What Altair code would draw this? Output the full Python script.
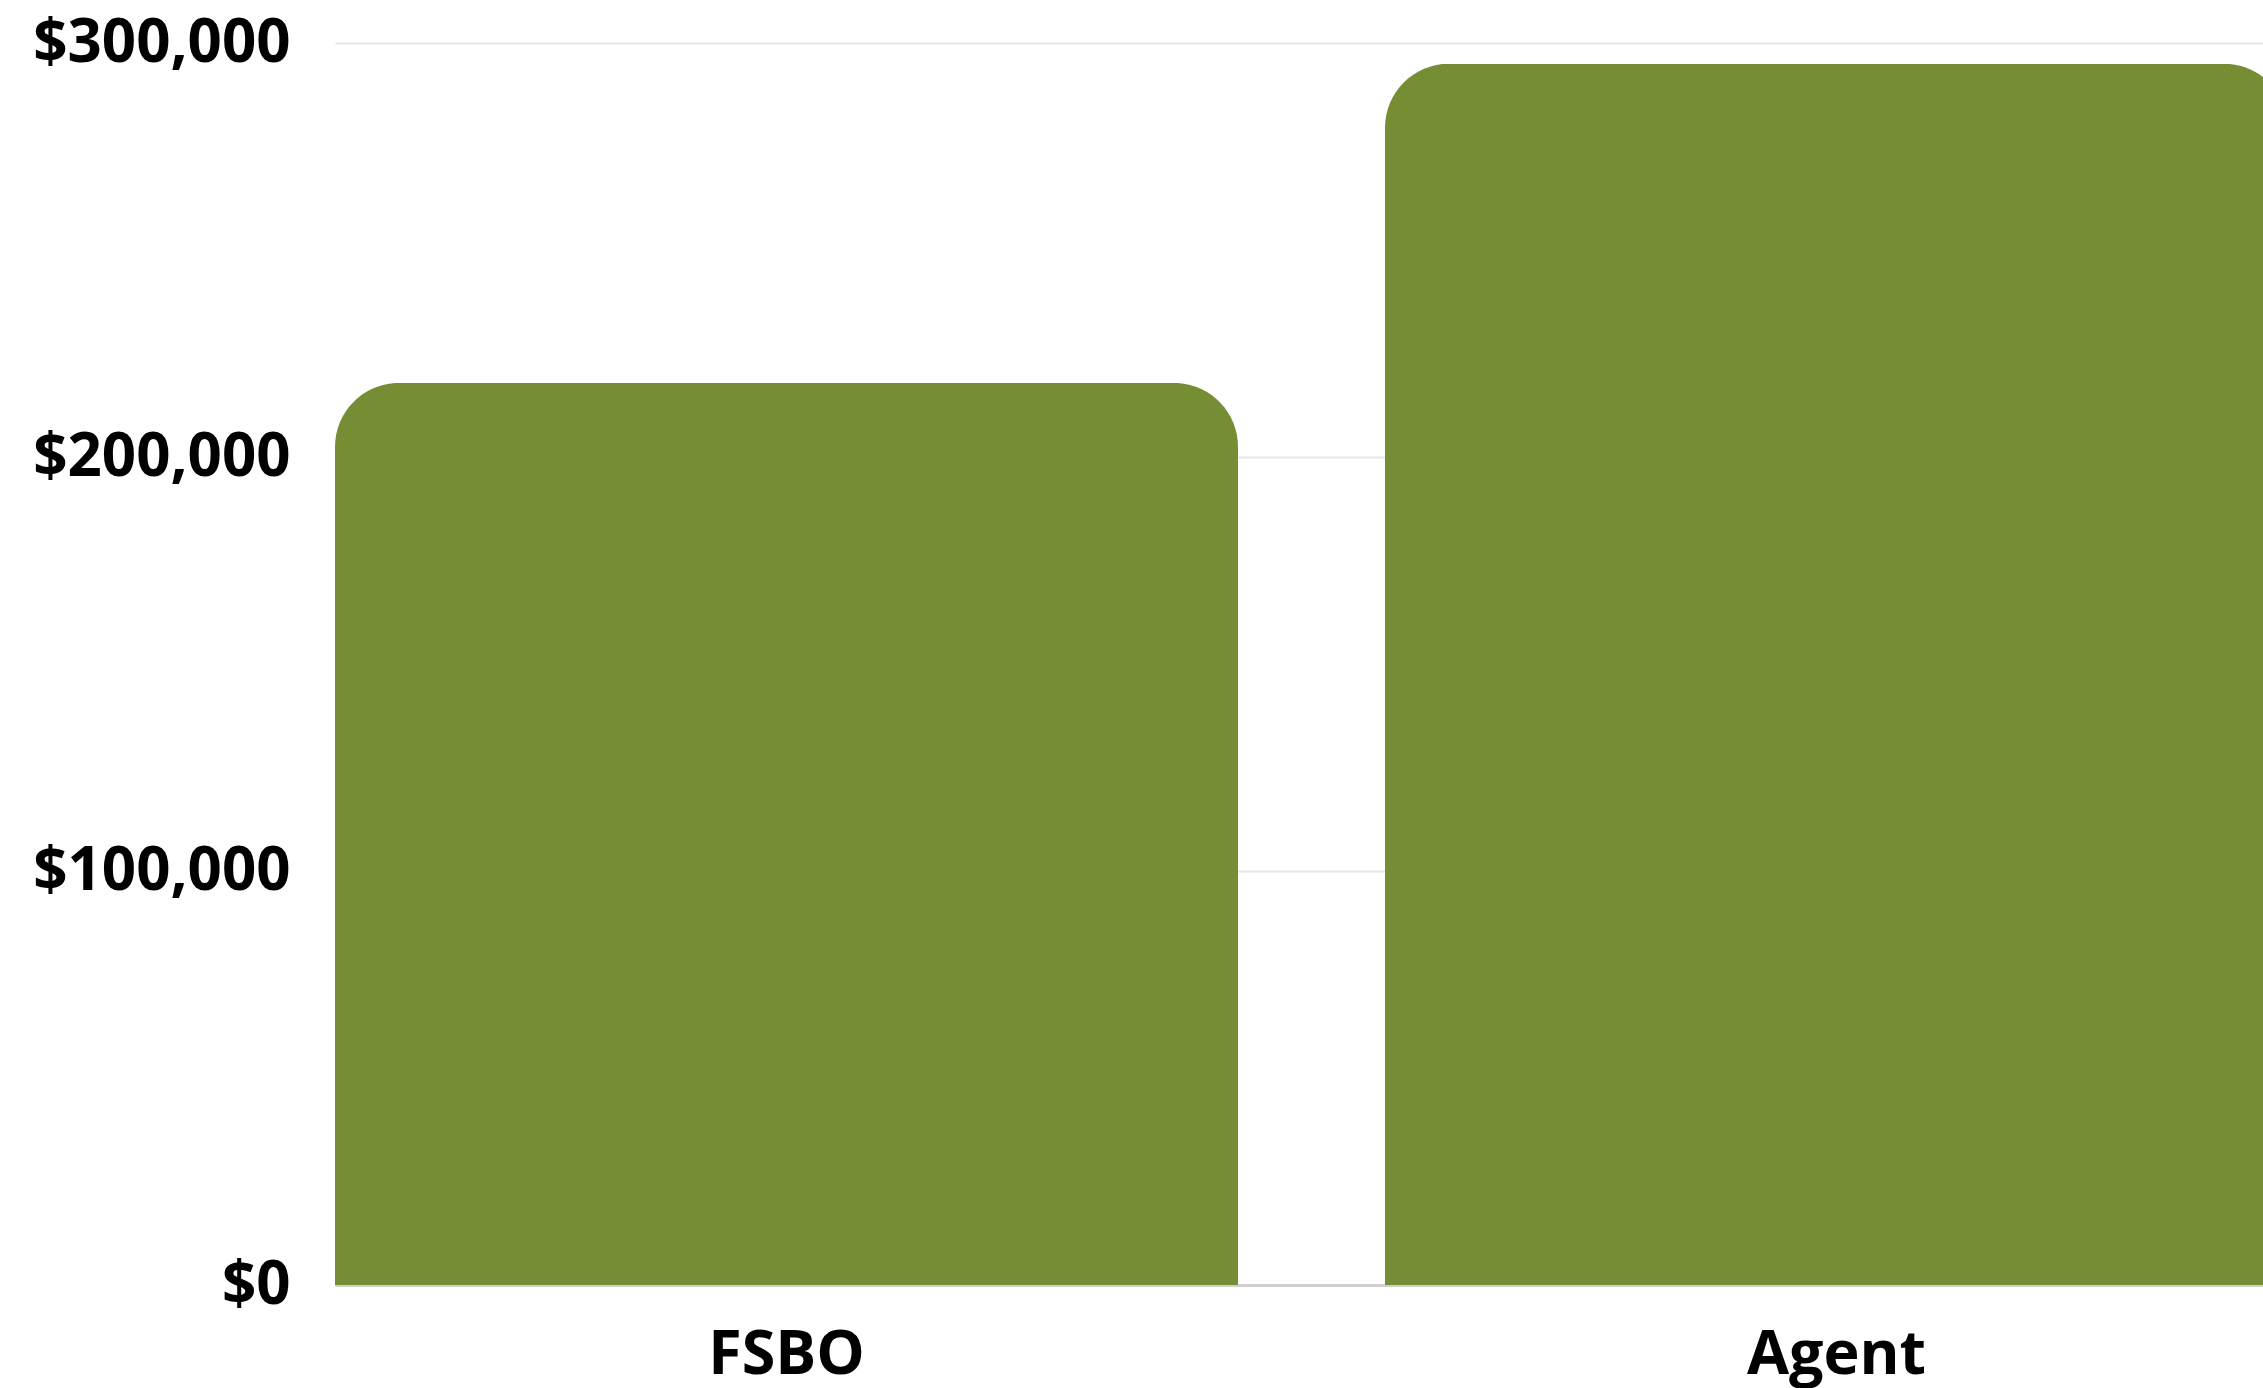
import altair as alt
import pandas as pd

categories = ["FSBO", "Agent"]
values = [217900, 295000]
y_ticks = [0, 100000, 200000, 300000]

df = pd.DataFrame({"seller": categories, "price": values})

bars = alt.Chart(df).mark_bar(
    color="#758d33",
    cornerRadiusTopLeft=64,
    cornerRadiusTopRight=64,
).encode(
    x=alt.X(
        "seller:N",
        sort=categories,
        title=None,
        scale=alt.Scale(range=[0, 1953], paddingInner=0.14, paddingOuter=0),
        axis=alt.Axis(
            labelAngle=0,
            labelFont="Open Sans",
            labelFontSize=61,
            labelFontWeight="bold",
            labelColor="#000000",
            labelPadding=40,
            labelLimit=600,
            ticks=False,
            domain=True,
            domainColor="#d0d0d0",
            domainWidth=3,
            grid=False,
        ),
    ),
    y=alt.Y(
        "price:Q",
        title=None,
        scale=alt.Scale(domain=[0, 300000], nice=False),
        axis=alt.Axis(
            values=y_ticks,
            format="$,.0f",
            labelFont="Open Sans",
            labelFontSize=60,
            labelFontWeight="bold",
            labelColor="#000000",
            labelPadding=45,
            labelLimit=600,
            ticks=False,
            domain=False,
            grid=True,
            gridColor="#e6e6e6",
            gridWidth=2,
        ),
    ),
)

chart = bars.properties(
    width=1928,
    height=1242,
    padding={"left": 335, "top": 43, "right": 0, "bottom": 103},
    autosize=alt.AutoSizeParams(type="none"),
    background="#ffffff",
).configure_view(stroke=None)

chart.save("out.html", embed_options={"renderer": "svg", "actions": False})
